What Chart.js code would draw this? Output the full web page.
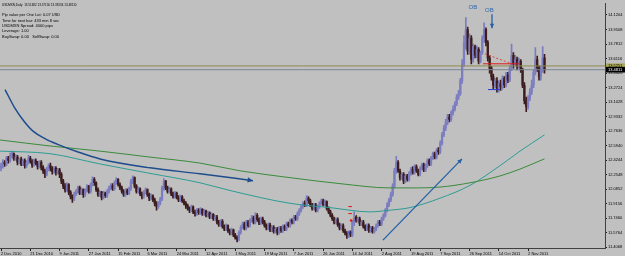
<!DOCTYPE html>
<html>
<head>
<meta charset="utf-8">
<script src="https://cdn.jsdelivr.net/npm/chart.js@4.4.1/dist/chart.umd.min.js"></script>
<style>
html, body { margin: 0; padding: 0; background: #c0c0c0; }
#wrap { width: 625px; height: 256px; }
</style>
</head>
<body>
<div id="wrap"><canvas id="chart" width="625" height="256"></canvas></div>
<script>
// USDMXN daily bars (open = previous close)
const firstOpen = 12.33;
const closes = [
12.36,12.40,12.38,12.45,12.42,12.48,12.50,12.44,12.46,12.40,12.43,
12.38,12.42,12.36,12.40,12.45,12.41,12.37,12.42,12.39,12.35,12.40,
12.34,12.30,12.26,12.32,12.36,12.33,
12.29,12.33,12.28,12.31,12.26,
12.18,12.12,12.08,12.14,12.05,12.00,11.97,12.03,
12.06,12.10,12.04,12.08,12.02,12.07,12.12,12.06,
12.14,12.20,12.16,
12.08,12.02,12.05,11.99,12.04,12.01,12.06,12.10,
12.13,12.09,12.16,12.20,12.14,12.10,
12.06,12.02,12.07,12.04,12.09,
12.18,12.22,12.12,
12.06,12.09,12.03,12.00,12.05,12.08,12.02,11.98,12.01,11.96,11.92,
11.88,11.92,11.97,
12.10,12.18,
12.10,12.06,12.09,12.03,12.00,12.04,11.99,11.96,12.00,11.95,11.92,11.89,
11.86,11.84,11.88,11.82,11.80,11.84,11.81,
11.85,11.80,11.83,11.78,11.81,11.76,11.79,11.74,11.76,
11.70,11.67,11.71,11.65,11.62,11.66,11.60,11.57,11.61,11.55,11.52,11.50,
11.58,11.64,11.68,11.63,11.70,11.66,11.72,
11.75,11.70,11.78,11.73,11.69,11.74,11.70,11.66,
11.63,11.67,11.61,11.64,11.59,11.62,11.58,11.63,11.60,11.65,11.62,
11.68,11.66,11.72,11.70,11.76,11.74,11.80,11.84,
11.88,11.92,11.90,11.98,11.95,
11.90,11.86,11.90,11.84,11.88,
11.92,11.95,11.91,11.94,
11.86,11.82,11.78,11.74,11.70,11.73,11.67,11.63,11.66,11.60,
11.57,11.54,11.58,11.55,
11.70,11.76,
11.72,11.74,11.68,11.70,
11.65,11.62,11.66,11.60,11.63,11.59,11.62,
11.66,11.70,11.68,11.74,11.78,
11.84,11.90,11.96,12.02,
12.12,12.30,12.40,
12.30,12.22,12.26,12.18,12.24,12.20,12.27,
12.32,12.28,12.35,12.30,12.26,12.33,12.37,12.31,
12.36,12.42,12.38,12.45,12.50,12.46,12.54,12.52,
12.62,12.72,12.80,12.86,
12.93,12.90,12.98,13.02,
13.08,13.16,13.20,
13.35,13.55,
13.80,13.95,
13.70,13.85,13.60,13.75,
13.65,13.72,13.58,13.68,
13.85,13.95,
13.80,13.62,13.50,
13.40,13.30,13.35,13.25,13.32,13.28,
13.38,13.30,13.42,13.36,
13.50,13.65,13.55,
13.60,13.52,13.58,13.48,
13.30,13.12,13.05,13.15,
13.22,13.30,
13.45,13.60,13.50,
13.40,13.48,
13.62,13.48
];
const highs = [
12.39,12.43,12.42,12.47,12.47,12.51,12.53,12.51,12.49,12.48,12.45,
12.46,12.44,12.44,12.42,12.48,12.47,12.43,12.44,12.44,12.41,12.42,
12.42,12.36,12.32,12.34,12.38,12.39,
12.35,12.35,12.35,12.33,12.33,
12.28,12.20,12.15,12.16,12.15,12.07,12.02,12.05,
12.08,12.12,12.12,12.10,12.09,12.09,12.14,12.13,
12.16,12.23,12.22,
12.17,12.10,12.07,12.06,12.06,12.05,12.08,12.12,
12.15,12.15,12.18,12.22,12.21,12.16,
12.12,12.08,12.09,12.09,12.11,
12.20,12.24,12.23,
12.14,12.11,12.10,12.05,12.07,12.10,12.09,12.04,12.03,12.02,11.98,
11.94,11.94,11.99,
12.12,12.21,
12.19,12.12,12.11,12.10,12.05,12.06,12.05,12.01,12.02,12.01,11.97,11.94,
11.91,11.88,11.90,11.89,11.84,11.86,11.86,
11.87,11.86,11.85,11.84,11.83,11.82,11.81,11.80,11.78,
11.78,11.72,11.73,11.73,11.67,11.68,11.67,11.62,11.63,11.62,11.57,11.54,
11.60,11.66,11.70,11.70,11.72,11.72,11.74,
11.78,11.77,11.81,11.80,11.75,11.76,11.76,11.72,
11.68,11.69,11.69,11.66,11.66,11.64,11.64,11.65,11.65,11.67,11.67,
11.70,11.70,11.74,11.74,11.78,11.78,11.82,11.86,
11.90,11.94,11.95,12.01,12.00,
11.97,11.92,11.92,11.92,11.90,
11.94,11.97,11.97,11.96,
11.95,11.88,11.84,11.80,11.76,11.75,11.75,11.69,11.68,11.68,
11.62,11.59,11.60,11.60,
11.72,11.82,
11.78,11.76,11.76,11.72,
11.72,11.67,11.68,11.68,11.65,11.65,11.64,
11.68,11.72,11.72,11.76,11.80,
11.86,11.93,11.98,12.05,
12.15,12.33,12.47,
12.42,12.32,12.28,12.28,12.26,12.26,12.29,
12.34,12.35,12.37,12.37,12.32,12.35,12.39,12.39,
12.38,12.44,12.44,12.47,12.52,12.52,12.56,12.57,
12.65,12.75,12.83,12.90,
12.96,12.96,13.00,13.06,
13.11,13.19,13.24,
13.38,13.60,
13.88,14.09,
13.98,13.90,13.88,13.78,
13.77,13.76,13.74,13.70,
13.88,14.03,
13.97,13.82,13.65,
13.52,13.43,13.38,13.39,13.35,13.36,
13.41,13.40,13.45,13.45,
13.53,13.78,13.68,
13.65,13.63,13.62,13.60,
13.50,13.33,13.16,13.18,
13.26,13.36,
13.48,13.74,13.64,
13.53,13.52,
13.75,13.66
];
const lows = [
12.30,12.33,12.35,12.36,12.39,12.40,12.45,12.42,12.42,12.37,12.38,
12.36,12.36,12.33,12.34,12.38,12.39,12.34,12.35,12.37,12.32,12.33,
12.31,12.27,12.22,12.24,12.30,12.30,
12.26,12.27,12.25,12.26,12.22,
12.15,12.09,12.05,12.06,12.02,11.97,11.93,11.95,
12.01,12.04,12.02,12.02,11.99,12.00,12.05,12.04,
12.04,12.12,12.13,
12.06,12.00,12.00,11.96,11.97,11.99,11.99,12.04,
12.08,12.07,12.07,12.14,12.12,12.08,
12.04,12.00,12.00,12.02,12.02,
12.07,12.15,12.10,
12.04,12.04,12.01,11.97,11.98,12.03,12.00,11.95,11.96,11.94,11.89,
11.84,11.86,11.90,
11.95,12.07,
12.08,12.04,12.04,12.01,11.98,11.98,11.97,11.94,11.94,11.93,11.90,11.86,
11.84,11.81,11.82,11.80,11.77,11.78,11.79,
11.79,11.78,11.78,11.76,11.76,11.74,11.74,11.72,11.72,
11.68,11.65,11.65,11.63,11.60,11.60,11.58,11.55,11.55,11.53,11.50,11.47,
11.48,11.56,11.62,11.61,11.61,11.64,11.64,
11.70,11.68,11.68,11.71,11.67,11.67,11.68,11.64,
11.61,11.61,11.59,11.59,11.57,11.57,11.55,11.56,11.58,11.58,11.60,
11.60,11.64,11.64,11.68,11.68,11.72,11.72,11.78,
11.82,11.86,11.88,11.88,11.92,
11.88,11.84,11.84,11.82,11.82,
11.86,11.90,11.89,11.89,
11.84,11.80,11.76,11.72,11.68,11.68,11.65,11.61,11.61,11.58,
11.55,11.51,11.52,11.53,
11.53,11.66,
11.70,11.70,11.66,11.66,
11.63,11.60,11.60,11.58,11.58,11.57,11.57,
11.60,11.64,11.66,11.66,11.72,
11.76,11.82,11.88,11.94,
12.00,12.10,12.27,
12.28,12.19,12.20,12.15,12.16,12.18,12.18,
12.25,12.26,12.26,12.28,12.24,12.24,12.31,12.29,
12.29,12.34,12.36,12.36,12.43,12.44,12.44,12.49,
12.50,12.60,12.70,12.77,
12.84,12.87,12.88,12.95,
13.00,13.06,13.13,
13.18,13.32,
13.52,13.72,
13.66,13.66,13.55,13.57,
13.62,13.62,13.55,13.56,
13.66,13.80,
13.76,13.58,13.44,
13.36,13.26,13.27,13.22,13.22,13.24,
13.25,13.27,13.28,13.33,
13.34,13.47,13.50,
13.52,13.48,13.50,13.45,
13.27,13.08,12.99,13.02,
13.12,13.19,
13.27,13.42,13.46,
13.36,13.36,
13.45,13.44
];

// time axis labels, one every 16 bars
const dateTickIdx = [0, 16, 32, 48, 64, 80, 96, 112, 128, 144, 160, 176, 192, 208, 224, 240, 256, 272, 288];
const dateLabels = ['2 Dec 2010', '21 Dec 2010', '9 Jan 2011', '27 Jan 2011', '15 Feb 2011', '6 Mar 2011',
    '24 Mar 2011', '12 Apr 2011', '1 May 2011', '19 May 2011', '7 Jun 2011', '26 Jun 2011', '14 Jul 2011',
    '2 Aug 2011', '19 Aug 2011', '7 Sep 2011', '26 Sep 2011', '14 Oct 2011', '2 Nov 2011'];

// price axis labels
const priceTicks = [14.1204, 13.9508, 13.7812, 13.6116, 13.4420, 13.2724, 13.1028, 12.9332, 12.7636,
    12.5940, 12.4244, 12.2548, 12.0852, 11.9156, 11.7460, 11.5764, 11.4068];

// moving averages, sampled along the curves
const maSlowIdx = [-0.5, 26.8, 54.1, 81.4, 108.7, 130.6, 157.9, 185.2, 212.6, 223.5, 239.9, 256.3, 272.7, 283.6, 297];
const maSlowVal = [12.66, 12.59, 12.53, 12.46, 12.39, 12.30, 12.22, 12.15, 12.10, 12.10, 12.11, 12.16, 12.24, 12.32, 12.44];
const maFastIdx = [-0.5, 26.8, 54.1, 81.4, 108.7, 125.1, 157.9, 179.8, 201.6, 212.6, 223.5, 239.9, 256.3, 272.7, 283.6, 297];
const maFastVal = [12.53, 12.50, 12.38, 12.27, 12.16, 12.07, 11.92, 11.87, 11.82, 11.84, 11.87, 11.98, 12.13, 12.36, 12.53, 12.72];

// hand drawn objects
const curveIdx = [2.2, 7.65, 12.57, 17.49, 24.04, 30.6, 42.08, 54.1, 81.4, 108.7, 137.7];
const curveVal = [13.249, 13.029, 12.879, 12.763, 12.676, 12.612, 12.520, 12.439, 12.335, 12.265, 12.185];
const trendIdx = [208.7, 251.9];
const trendVal = [11.49, 12.439];
const obArrowIdx = [268.3, 268.3];
const obArrowVal = [14.128, 13.966];
const redLevelIdx = [263.4, 283.1];
const redLevelVal = [13.55, 13.55];
const redDashIdx = [264.5, 279.2];
const redDashVal = [13.666, 13.55];
const blueLevelIdx = [266.1, 272.7];
const blueLevelVal = [13.249, 13.249];
const julyMarkIdx = [189.8, 191.8];
const julyMarkHi = [11.882, 11.882];
const julyMarkLo = [11.80, 11.80];
const julyBlueVal = [11.583, 11.583];
const julyDotIdx = [191.3, 195.1];
const julyDotVal = [11.72, 11.815];
const obLabels = [{ text: 'OB', x: 255.5, y: 14.205 }, { text: 'OB', x: 264.5, y: 14.17 }];

const bidPrice = 13.4811;
const askPrice = 13.5251;

const infoLines = [
    'Pip value per One Lot: 0.07 USD',
    'Time for next bar: 433 min 8 sec',
    'USDMXN Spread: 4000 pips',
    'Leverage: 1.00',
    'BuySwap: 0.00   SellSwap: 0.00'
];
const titleLine = 'USDMXN,Daily  13.51682 13.57156 13.38134 13.48110';

const upColor = '#7c7cc0';
const downColor = '#3c1c1c';

function points(xs, ys) {
    return xs.map((x, i) => ({ x: x, y: ys[i] }));
}

function lineSet(data, color, width, extra) {
    return Object.assign({
        type: 'line',
        data: data,
        borderColor: color,
        borderWidth: width,
        pointRadius: 0,
        fill: false,
        order: 1
    }, extra || {});
}

// small filled arrow head at the end of a polyline
function arrowHead(ctx, sx, sy, xs, ys, color, size) {
    const n = xs.length;
    const x1 = sx.getPixelForValue(xs[n - 2]), y1 = sy.getPixelForValue(ys[n - 2]);
    const x2 = sx.getPixelForValue(xs[n - 1]), y2 = sy.getPixelForValue(ys[n - 1]);
    const a = Math.atan2(y2 - y1, x2 - x1);
    ctx.save();
    ctx.fillStyle = color;
    ctx.beginPath();
    ctx.moveTo(x2, y2);
    ctx.lineTo(x2 - size * Math.cos(a - 0.45), y2 - size * Math.sin(a - 0.45));
    ctx.lineTo(x2 - size * Math.cos(a + 0.45), y2 - size * Math.sin(a + 0.45));
    ctx.closePath();
    ctx.fill();
    ctx.restore();
}

const terminalPlugin = {
    id: 'terminal',
    beforeDraw(chart) {
        const ctx = chart.ctx;
        ctx.save();
        ctx.fillStyle = '#c0c0c0';
        ctx.fillRect(0, 0, chart.width, chart.height);
        ctx.restore();
    },
    afterDatasetsDraw(chart) {
        const { ctx, scales: { x, y } } = chart;
        arrowHead(ctx, x, y, curveIdx, curveVal, '#1d4d8c', 6);
        arrowHead(ctx, x, y, trendIdx, trendVal, '#2461a6', 5);
        arrowHead(ctx, x, y, obArrowIdx, obArrowVal, '#2461a6', 5);
        // fractal dot next to the July marks
        ctx.save();
        ctx.fillStyle = '#f01010';
        ctx.beginPath();
        ctx.arc(x.getPixelForValue(julyDotIdx[0]), y.getPixelForValue(julyDotVal[0]), 1.3, 0, Math.PI * 2);
        ctx.fill();
        ctx.fillStyle = '#2a66b0';
        ctx.font = '6px "Liberation Sans"';
        ctx.textAlign = 'left';
        ctx.textBaseline = 'middle';
        obLabels.forEach(l => ctx.fillText(l.text, x.getPixelForValue(l.x), y.getPixelForValue(l.y)));
        ctx.restore();
    },
    afterDraw(chart) {
        const { ctx, scales: { y }, chartArea } = chart;
        ctx.save();
        ctx.fillStyle = '#000';
        ctx.textBaseline = 'middle';
        ctx.font = '3px "Liberation Sans"';
        ctx.fillText(titleLine, 2, 4.7);
        ctx.font = '4px "Liberation Sans"';
        infoLines.forEach((t, i) => ctx.fillText(t, 2, 15.3 + i * 5.35));
        // ask / bid price boxes on the price axis
        const ay = y.getPixelForValue(askPrice);
        ctx.fillStyle = '#a8a85a';
        ctx.fillRect(chartArea.right + 1, ay - 2.5, 20, 5);
        ctx.fillStyle = '#000';
        ctx.fillText(askPrice.toFixed(4), chartArea.right + 3, ay);
        const by = y.getPixelForValue(bidPrice);
        ctx.fillStyle = '#000';
        ctx.fillRect(chartArea.right + 1, by - 2.8, 20, 5.6);
        ctx.fillStyle = '#fff';
        ctx.fillText(bidPrice.toFixed(4), chartArea.right + 3, by);
        ctx.restore();
    }
};

const opens = closes.map((c, i) => i === 0 ? firstOpen : closes[i - 1]);
const candleColors = closes.map((c, i) => c >= opens[i] ? upColor : downColor);

new Chart(document.getElementById('chart'), {
    type: 'bar',
    data: {
        datasets: [
            {
                data: closes.map((c, i) => ({ x: i, y: [lows[i], highs[i]] })),
                backgroundColor: candleColors,
                barThickness: 1,
                grouped: false,
                order: 6
            },
            {
                data: closes.map((c, i) => ({ x: i, y: [opens[i], c] })),
                backgroundColor: candleColors,
                barThickness: 1.6,
                minBarLength: 1,
                grouped: false,
                order: 5
            },
            lineSet([{ x: -1, y: askPrice }, { x: 331, y: askPrice }], '#8c8c50', 1, { order: 4 }),
            lineSet([{ x: -1, y: bidPrice }, { x: 331, y: bidPrice }], '#7c8494', 1, { order: 4 }),
            lineSet(points(maSlowIdx, maSlowVal), '#3b8a3b', 1, { cubicInterpolationMode: 'monotone', order: 3 }),
            lineSet(points(maFastIdx, maFastVal), '#2d9c94', 1, { cubicInterpolationMode: 'monotone', order: 3 }),
            lineSet(points(curveIdx, curveVal), '#1d4d8c', 1.5, { cubicInterpolationMode: 'monotone' }),
            lineSet(points(trendIdx, trendVal), '#2461a6', 1.3),
            lineSet(points(obArrowIdx, obArrowVal), '#2461a6', 1.3),
            lineSet(points(redLevelIdx, redLevelVal), '#e01818', 1),
            lineSet(points(redDashIdx, redDashVal), '#e04040', 1, { borderDash: [2, 2] }),
            lineSet(points(blueLevelIdx, blueLevelVal), '#2040e0', 1),
            lineSet(points(julyMarkIdx, julyMarkHi), '#e01818', 1),
            lineSet(points(julyMarkIdx, julyMarkLo), '#e01818', 1),
            lineSet(points(julyMarkIdx, julyBlueVal), '#2040e0', 1),
            lineSet(points(julyDotIdx, julyDotVal), '#f0a040', 1, { borderDash: [1, 1] })
        ]
    },
    options: {
        responsive: false,
        animation: false,
        layout: { padding: { top: 1, left: 0, right: 0, bottom: 0 } },
        plugins: { legend: { display: false }, tooltip: { enabled: false } },
        scales: {
            x: {
                type: 'linear',
                min: -0.55,
                max: 330.05,
                offset: false,
                afterFit: s => { s.height = 8; },
                afterBuildTicks: s => { s.ticks = dateTickIdx.map(v => ({ value: v })); },
                ticks: {
                    autoSkip: false,
                    maxRotation: 0,
                    align: 'start',
                    padding: 0,
                    color: '#000',
                    font: { family: 'Liberation Sans', size: 4 },
                    callback: (v) => dateLabels[dateTickIdx.indexOf(v)]
                },
                grid: { offset: false, drawOnChartArea: false, tickLength: 3, color: '#222' },
                border: { color: '#404040' }
            },
            y: {
                position: 'right',
                min: 11.398,
                max: 14.2558,
                afterFit: s => { s.width = 20; },
                afterBuildTicks: s => { s.ticks = priceTicks.map(v => ({ value: v })); },
                ticks: {
                    padding: 1,
                    color: '#000',
                    font: { family: 'Liberation Sans', size: 4 },
                    callback: (v) => v.toFixed(4)
                },
                grid: { drawOnChartArea: false, tickLength: 2, color: '#222' },
                border: { color: '#404040' }
            }
        }
    },
    plugins: [terminalPlugin]
});
</script>
</body>
</html>
